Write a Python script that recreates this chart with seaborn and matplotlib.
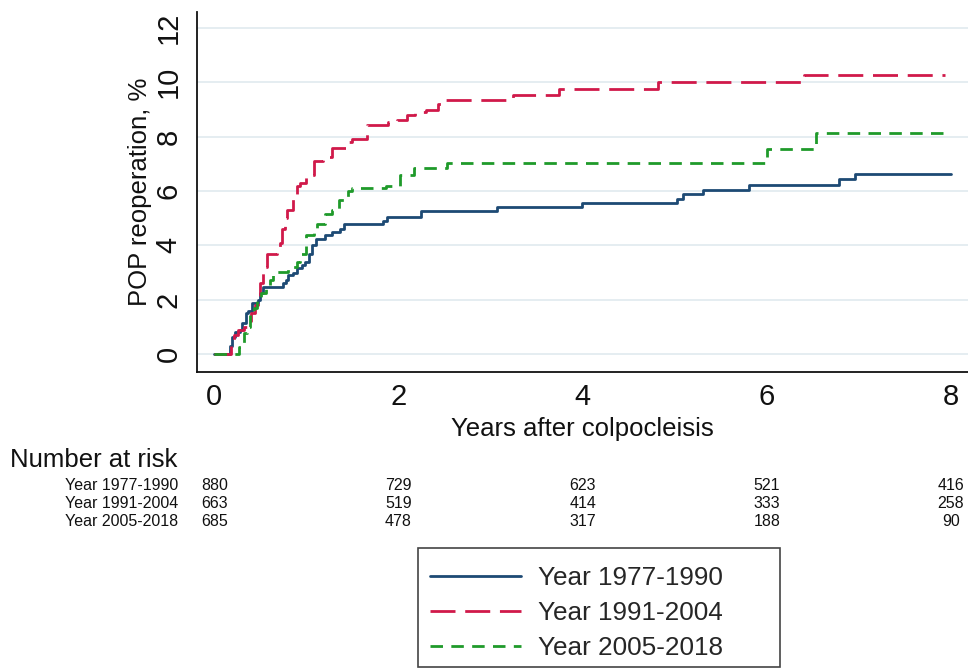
import numpy as np
import pandas as pd
import matplotlib
matplotlib.use("Agg")
import matplotlib.pyplot as plt
import matplotlib.transforms as mtransforms
from matplotlib.patches import Rectangle
import seaborn as sns

# ---------------- data ----------------
groups = ["Year 1977-1990", "Year 1991-2004", "Year 2005-2018"]

t_1977 = [0.00, 0.17, 0.19, 0.23, 0.28, 0.30, 0.34, 0.37, 0.41, 0.47, 0.50, 0.53,
          0.75, 0.78, 0.80, 0.85, 0.90, 0.95, 0.99, 1.03, 1.06, 1.10, 1.20, 1.28,
          1.36, 1.41, 1.83, 1.88, 2.24, 3.07, 3.99, 5.03, 5.09, 5.31, 5.81, 6.78,
          6.96, 8.00]
p_1977 = [0.00, 0.30, 0.63, 0.80, 0.90, 1.14, 1.50, 1.60, 1.87, 2.00, 2.24, 2.46,
          2.60, 2.72, 2.90, 3.00, 3.15, 3.27, 3.40, 3.70, 4.00, 4.25, 4.37, 4.50,
          4.62, 4.77, 4.90, 5.03, 5.27, 5.42, 5.56, 5.72, 5.88, 6.05, 6.21, 6.43,
          6.62, 6.62]

t_1991 = [0.00, 0.17, 0.18, 0.21, 0.26, 0.32, 0.36, 0.40, 0.44, 0.47, 0.50, 0.53,
          0.57, 0.68, 0.71, 0.74, 0.77, 0.79, 0.85, 0.90, 0.93, 1.00, 1.08, 1.18,
          1.28, 1.44, 1.50, 1.66, 1.89, 1.98, 2.09, 2.18, 2.30, 2.43, 2.50, 3.24,
          3.74, 4.82, 6.40, 7.94]
p_1991 = [0.00, 0.00, 0.50, 0.70, 0.90, 1.00, 1.20, 1.50, 1.80, 2.10, 2.60, 3.20,
          3.70, 3.90, 4.10, 4.60, 5.00, 5.30, 5.80, 6.20, 6.30, 6.60, 7.10, 7.25,
          7.57, 7.80, 7.93, 8.42, 8.54, 8.60, 8.80, 8.90, 8.97, 9.22, 9.34, 9.54,
          9.75, 10.00, 10.28, 10.28]

t_2005 = [0.00, 0.27, 0.32, 0.36, 0.39, 0.43, 0.46, 0.51, 0.56, 0.60, 0.64, 0.80,
          0.90, 0.93, 1.00, 1.08, 1.12, 1.20, 1.28, 1.35, 1.45, 1.50, 1.86, 2.02,
          2.17, 2.53, 6.00, 6.53, 8.00]
p_2005 = [0.00, 0.27, 0.77, 1.00, 1.50, 1.70, 2.00, 2.24, 2.46, 2.72, 3.03, 3.20,
          3.40, 3.70, 4.37, 4.60, 4.80, 5.17, 5.30, 5.66, 6.00, 6.10, 6.20, 6.58,
          6.83, 7.03, 7.53, 8.14, 8.14]

risk_times = [0, 2, 4, 6, 8]
risk_1977 = [880, 729, 623, 521, 416]
risk_1991 = [663, 519, 414, 333, 258]
risk_2005 = [685, 478, 317, 188, 90]

xticks = [0, 2, 4, 6, 8]
yticks = [0, 2, 4, 6, 8, 10, 12]

# ---------------- styling ----------------
sns.set_theme(style="white")
plt.rcParams["font.family"] = ["Liberation Sans", "DejaVu Sans"]

colors = {groups[0]: "#1d4a74", groups[1]: "#d0194a", groups[2]: "#1f9a2a"}
dashes = {groups[0]: "", groups[1]: (9, 3.5), groups[2]: (4.5, 3)}

df = pd.concat([
    pd.DataFrame({"t": t_1977, "pct": p_1977, "group": groups[0]}),
    pd.DataFrame({"t": t_1991, "pct": p_1991, "group": groups[1]}),
    pd.DataFrame({"t": t_2005, "pct": p_2005, "group": groups[2]}),
], ignore_index=True)

W, H = 968, 670
fig = plt.figure(figsize=(W / 100, H / 100), dpi=100)
ax = fig.add_axes([197 / W, 1 - 372 / H, (968 - 197) / W, (372 - 12) / H])

sns.lineplot(data=df, x="t", y="pct", hue="group", style="group",
             palette=colors, dashes=dashes, drawstyle="steps-post",
             estimator=None, sort=False, linewidth=2.0, ax=ax)

ax.set_xlim(-0.188, 8.185)
ax.set_ylim(-0.66, 12.59)
ax.set_xticks(xticks)
ax.set_yticks(yticks)
ax.set_xticklabels([str(v) for v in xticks])
ax.set_yticklabels([str(v) for v in yticks])
ax.yaxis.grid(True, color="#e3ecf0", linewidth=1.3)
ax.xaxis.grid(False)
ax.set_axisbelow(True)

for s in ["top", "right"]:
    ax.spines[s].set_visible(False)
for s in ["left", "bottom"]:
    ax.spines[s].set_color("#111111")
    ax.spines[s].set_linewidth(1.3)

ax.tick_params(axis="both", which="major", length=7.2, width=1.2, color="#111111",
               labelsize=21, labelcolor="#111111", direction="out")
ax.tick_params(axis="y", pad=3, labelrotation=90)
ax.tick_params(axis="x", pad=1)
for lab in ax.get_yticklabels():
    lab.set_verticalalignment("center")

ax.set_xlabel("Years after colpocleisis", fontsize=18.5, color="#111111", labelpad=4)
ax.set_ylabel("POP reoperation, %", fontsize=18.5, color="#111111", labelpad=2)

# legend
handles, labels = ax.get_legend_handles_labels()
if ax.get_legend() is not None:
    ax.get_legend().remove()
leg = fig.legend(handles, labels, loc="upper left",
                 bbox_to_anchor=(430 / W, 1 - 566 / H), bbox_transform=fig.transFigure,
                 fontsize=18.8, frameon=False, handlelength=3.5,
                 handletextpad=0.62, labelspacing=0.42, borderpad=0,
                 borderaxespad=0)
for lh in leg.get_lines():
    lh.set_linewidth(2.0)
fig.patches.append(Rectangle((418 / W, 1 - 667 / H), (780 - 418) / W, (667 - 548) / H,
                             transform=fig.transFigure, fill=False,
                             edgecolor="#444444", linewidth=1.2))

# number at risk table
trans = mtransforms.blended_transform_factory(ax.transData, fig.transFigure)
fig.text(10 / W, 1 - 460 / H, "Number at risk", fontsize=18.5, ha="left",
         va="center", color="#111111")
rows = [risk_1977, risk_1991, risk_2005]
row_y = [485, 503, 521]
for g, vals, yp in zip(groups, rows, row_y):
    fig.text(178 / W, 1 - yp / H, g, fontsize=11.5, ha="right", va="center",
             color="#111111")
    for tt, v in zip(risk_times, vals):
        ax.text(tt, 1 - yp / H, str(v), transform=trans, fontsize=11.5,
                ha="center", va="center", color="#111111", clip_on=False)

fig.savefig("out.png", dpi=100, facecolor="white")
